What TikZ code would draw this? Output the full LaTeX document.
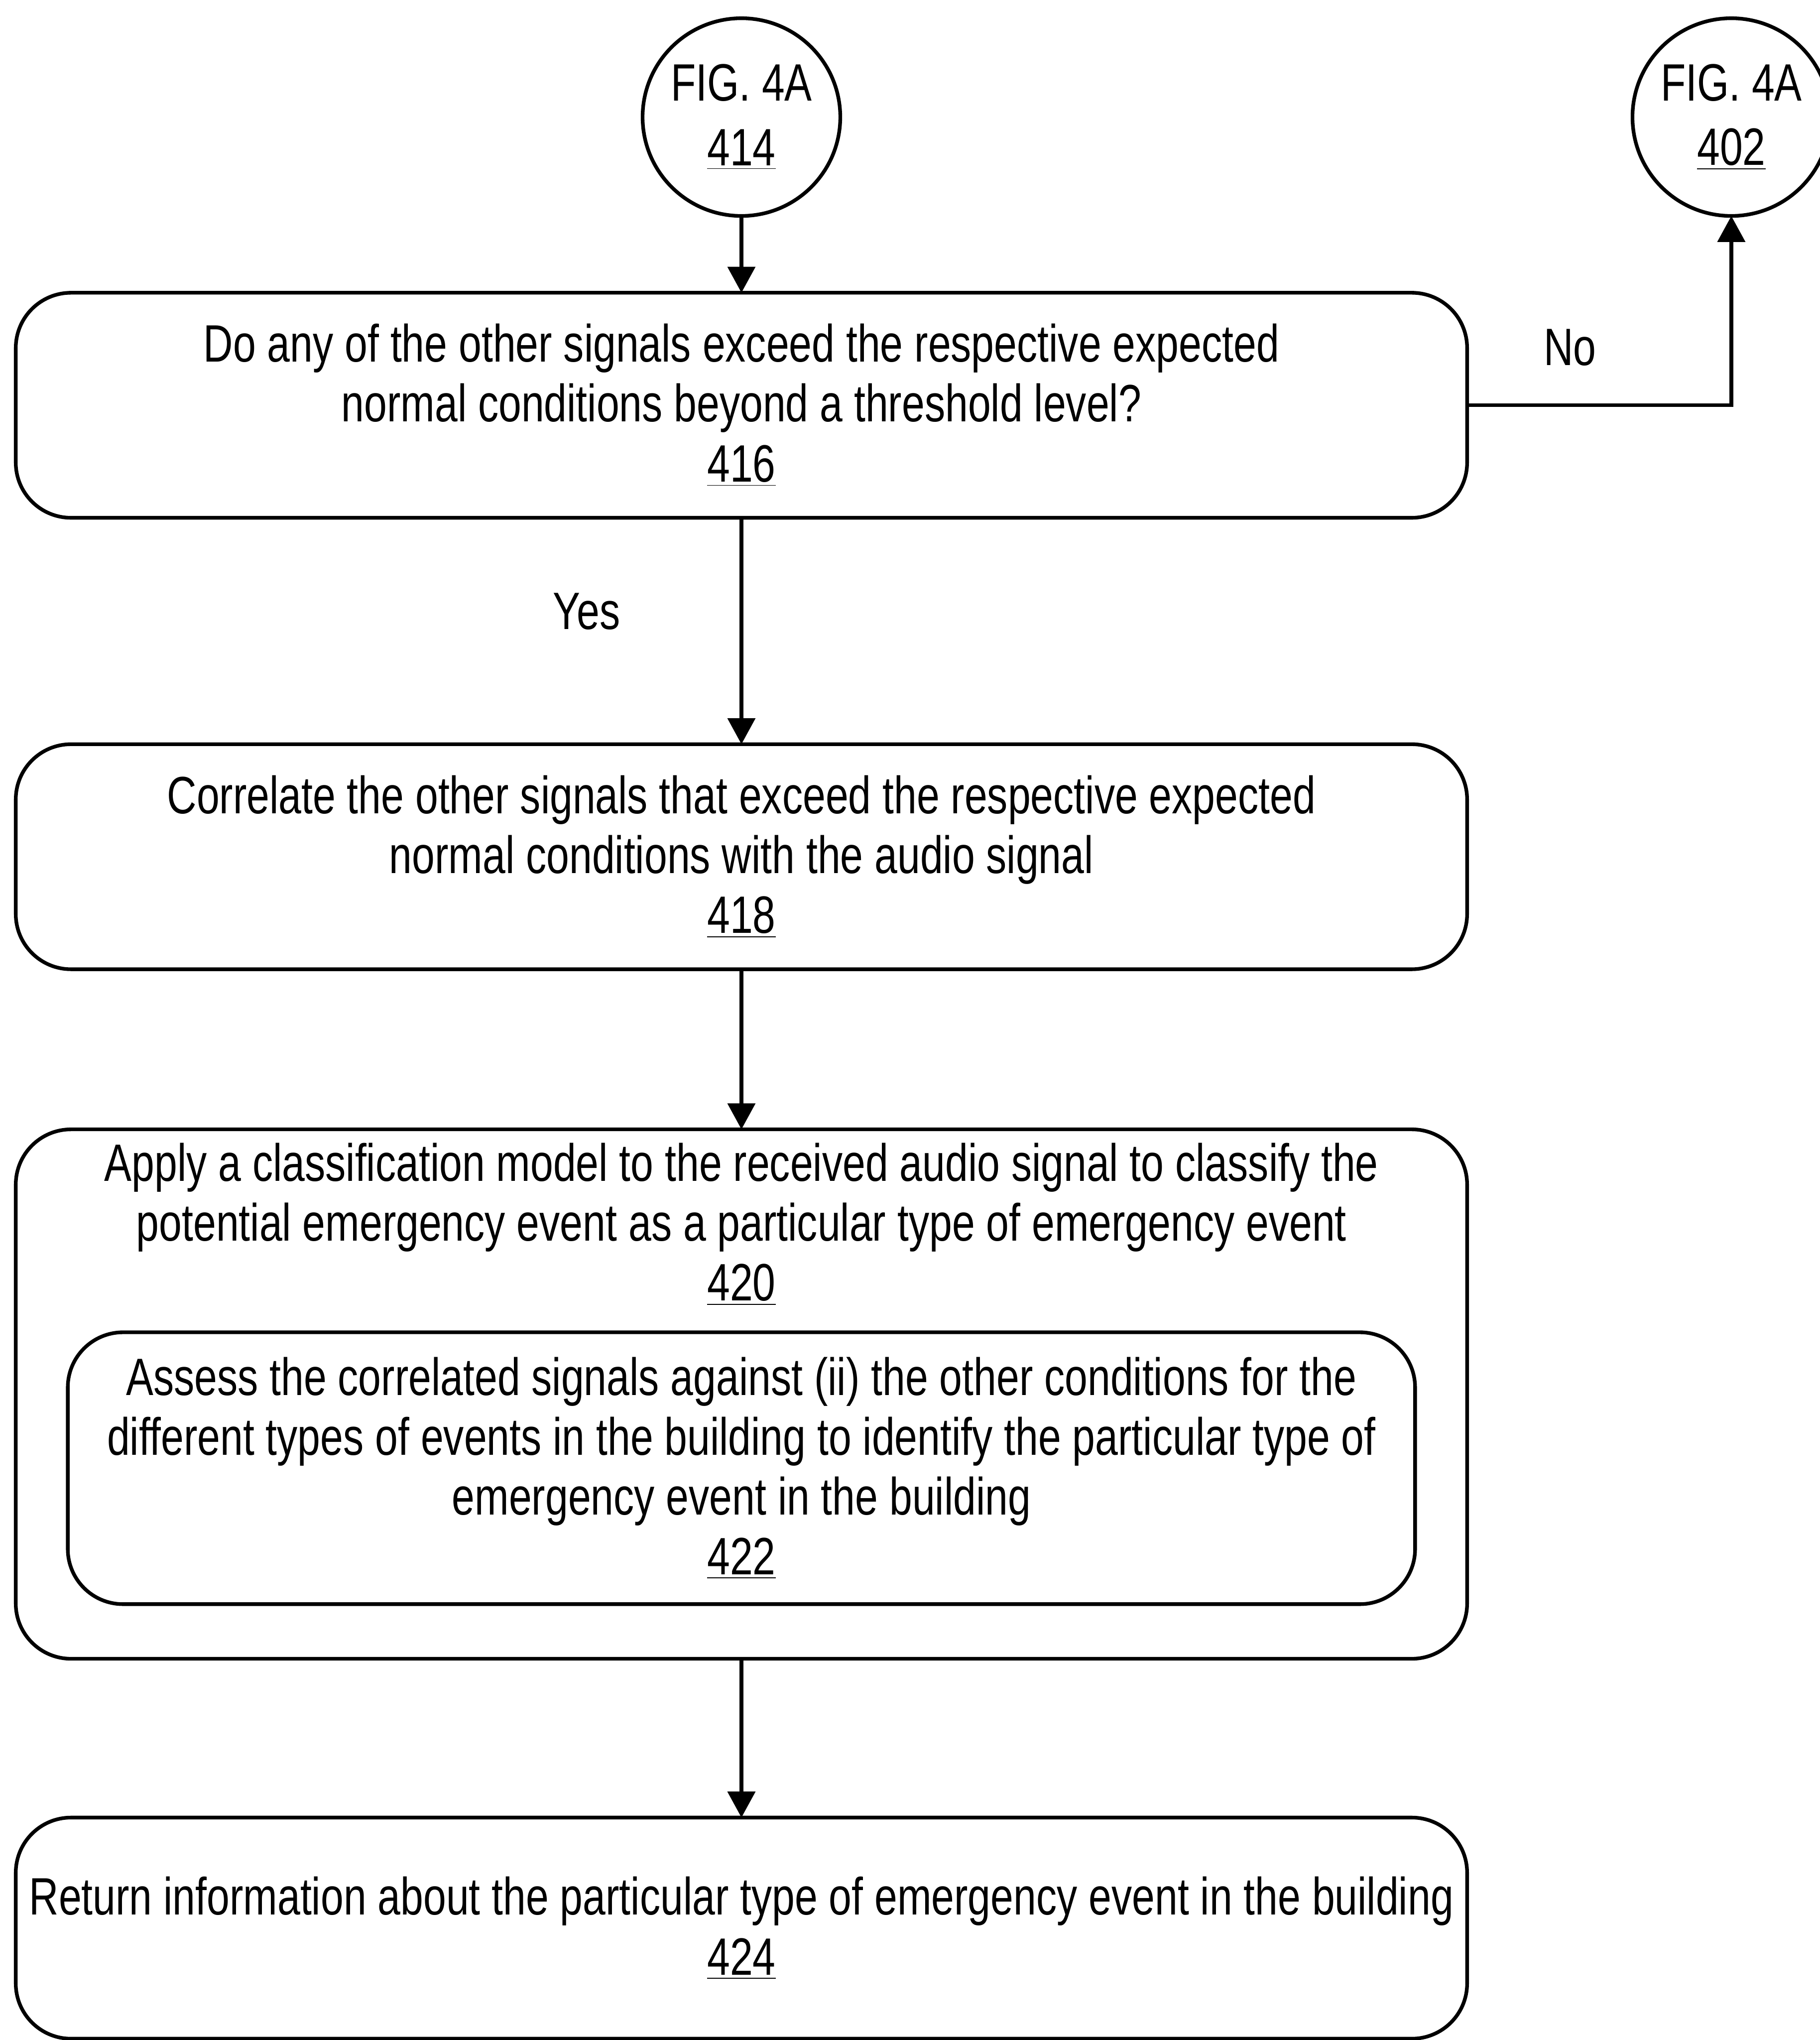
\documentclass[tikz,border=0pt]{standalone}
\usepackage{fontspec}
\setmainfont[FakeStretch=0.78]{Liberation Sans}
\usetikzlibrary{arrows.meta}
\begin{document}
\begin{tikzpicture}[x=0.02cm,y=-0.02cm,
  every node/.style={font=\fontsize{23}{26.2}\selectfont, inner sep=0pt, outer sep=0pt},
  procbox/.style={draw, line width=1.6pt, rounded corners=0.85cm, align=center},
  conn/.style={circle, draw, line width=1.6pt, minimum size=3.04cm, align=center},
  flow/.style={line width=1.6pt, -{Triangle[length=0.4cm,width=0.42cm]}},
  lbl/.style={anchor=center}]
\useasboundingbox (0,0) rectangle (1399,1568);

% off-page connectors
\node[conn] (c414) at (570,90) {FIG. 4A\\[2pt]\underline{414}};
\node[conn] (c402) at (1331,90) {FIG. 4A\\[2pt]\underline{402}};

% decision 416
\node[procbox, minimum width=22.32cm, minimum height=3.46cm] (b416) at (570,311.5)
  {Do any of the other signals exceed the respective expected\\
   normal conditions beyond a threshold level?\\
   \underline{416}};

% step 418
\node[procbox, minimum width=22.32cm, minimum height=3.46cm] (b418) at (570,658.5)
  {Correlate the other signals that exceed the respective expected\\
   normal conditions with the audio signal\\
   \underline{418}};

% step 420 with nested step 422
\node[procbox, minimum width=22.32cm, minimum height=8.14cm] (b420) at (570,1071.5) {};
\node (t420) at (570,941) [align=center]
  {Apply a classification model to the received audio signal to classify the\\
   potential emergency event as a particular type of emergency event\\
   \underline{420}};
\node[procbox, minimum width=20.72cm, minimum height=4.18cm] (b422) at (570,1128.5)
  {Assess the correlated signals against (ii) the other conditions for the\\
   different types of events in the building to identify the particular type of\\
   emergency event in the building\\
   \underline{422}};

% step 424
\node[procbox, minimum width=22.32cm, minimum height=3.4cm] (b424) at (570,1482)
  {Return information about the particular type of emergency event in the building\\
   \underline{424}};

% connectors
\draw[flow] (c414) -- (b416);
\draw[flow] (b416.east) -| (c402.south);
\node[lbl] (no) at (1207,267) {No};
\draw[flow] (b416) -- (b418);
\node[lbl] (yes) at (451,470) {Yes};
\draw[flow] (b418) -- (b420);
\draw[flow] (b420) -- (b424);
\end{tikzpicture}
\end{document}
